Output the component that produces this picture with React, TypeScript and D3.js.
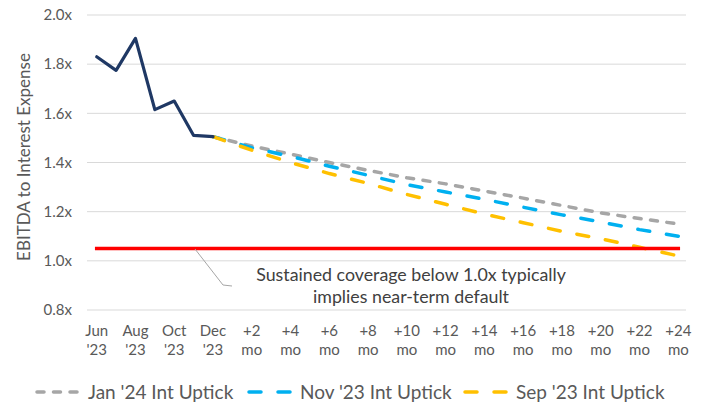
import React from "react";
import * as d3 from "d3";

// history (monthly actuals)
const historyLabels = ["Jun '23", "Jul '23", "Aug '23", "Sep '23", "Oct '23", "Nov '23", "Dec '23"];
const historyValues = [1.83, 1.775, 1.905, 1.615, 1.65, 1.51, 1.505];

// projection months after Dec '23
const projectionLabels = ["Dec '23", "+2 mo", "+4 mo", "+6 mo", "+8 mo", "+10 mo", "+12 mo", "+14 mo", "+16 mo", "+18 mo", "+20 mo", "+22 mo", "+24 mo"];
const jan24Values = [1.505, 1.467, 1.434, 1.4, 1.368, 1.338, 1.313, 1.284, 1.255, 1.225, 1.195, 1.172, 1.15];
const nov23Values = [1.505, 1.46, 1.425, 1.385, 1.348, 1.31, 1.28, 1.25, 1.218, 1.187, 1.158, 1.127, 1.1];
const sep23Values = [1.505, 1.45, 1.4, 1.355, 1.315, 1.27, 1.23, 1.19, 1.155, 1.12, 1.09, 1.055, 1.02];

const thresholdValue = 1.05;

const yTicks = [0.8, 1.0, 1.2, 1.4, 1.6, 1.8, 2.0];
const tickLabels = ["Jun '23", "Aug '23", "Oct '23", "Dec '23", "+2 mo", "+4 mo", "+6 mo", "+8 mo", "+10 mo", "+12 mo", "+14 mo", "+16 mo", "+18 mo", "+20 mo", "+22 mo", "+24 mo"];

const futureMonths = d3.range(1, 25).map((m) => `+${m} mo`);
const categories = [...historyLabels, ...futureMonths];

const legendItems = [
    { name: "Jan '24 Int Uptick", color: "#a6a6a6", dash: "7,9.5", x: 35 },
    { name: "Nov '23 Int Uptick", color: "#00b0f0", dash: "12,17", x: 247 },
    { name: "Sep '23 Int Uptick", color: "#ffc000", dash: "12,17", x: 463 },
];

const W = 705;
const H = 404;
const FONT = "Lato, sans-serif";

export default function App() {
    const x = d3.scaleBand<string>().domain(categories).range([87, 688]);
    const cx = (c: string) => (x(c) ?? 0) + x.bandwidth() / 2;
    const y = d3.scaleLinear().domain([0.8, 2.0]).range([310, 15]);

    const line = d3.line<[string, number]>()
        .x((d) => cx(d[0]))
        .y((d) => y(d[1]));

    const history = line(historyLabels.map((c, i) => [c, historyValues[i]] as [string, number]));
    const proj = (vals: number[]) => line(projectionLabels.map((c, i) => [c, vals[i]] as [string, number]));
    const threshold = line([[categories[0], thresholdValue], [categories[categories.length - 1], thresholdValue]]);

    return (
        <svg width={W} height={H} style={{ position: "absolute", left: 0, top: 0, background: "#fff" }} fontFamily={FONT}>
            {/* gridlines */}
            {yTicks.map((t) => (
                <g key={t}>
                    <line x1={87} x2={686} y1={y(t)} y2={y(t)} stroke="#d9d9d9" strokeWidth={1} />
                    <text x={72} y={y(t)} dy="0.35em" textAnchor="end" fontSize={15} fill="#595959">
                        {t.toFixed(1)}x
                    </text>
                </g>
            ))}

            {/* y title */}
            <text transform={`translate(24,157) rotate(-90)`} textAnchor="middle" fontSize={17} fill="#595959" dy="0.35em">
                EBITDA to Interest Expense
            </text>

            {/* x labels */}
            {tickLabels.map((l) => {
                const [a, b] = l.split(" ");
                return (
                    <text key={l} x={cx(l)} textAnchor="middle" fontSize={15} fill="#595959">
                        <tspan x={cx(l)} y={336}>{a}</tspan>
                        <tspan x={cx(l)} y={355}>{b}</tspan>
                    </text>
                );
            })}

            {/* projections */}
            <path d={proj(jan24Values) ?? ""} fill="none" stroke="#a6a6a6" strokeWidth={3.5} strokeDasharray="7,9.5" strokeLinecap="round" />
            <path d={proj(nov23Values) ?? ""} fill="none" stroke="#00b0f0" strokeWidth={3.5} strokeDasharray="12,17" strokeLinecap="round" />
            <path d={proj(sep23Values) ?? ""} fill="none" stroke="#ffc000" strokeWidth={3.5} strokeDasharray="12,17" strokeLinecap="round" />

            {/* actuals */}
            <path d={history ?? ""} fill="none" stroke="#1f3864" strokeWidth={3.2} strokeLinejoin="round" strokeLinecap="round" />

            {/* threshold */}
            <path d={threshold ?? ""} fill="none" stroke="#ff0000" strokeWidth={3.5} strokeLinecap="square" />

            {/* annotation */}
            <polyline points="195,249 223,285 232,286" fill="none" stroke="#a6a6a6" strokeWidth={1} />
            <text x={411} textAnchor="middle" fontSize={17.8} fill="#404040">
                <tspan x={411} y={281}>Sustained coverage below 1.0x typically</tspan>
                <tspan x={411} y={302.5}>implies near-term default</tspan>
            </text>

            {/* legend */}
            {legendItems.map((it) => (
                <g key={it.name}>
                    <line x1={it.x + 2} x2={it.x + 45} y1={392} y2={392} stroke={it.color} strokeWidth={3.5}
                        strokeDasharray={it.dash} strokeLinecap="round" />
                    <text x={it.x + 53} y={392} dy="0.35em" fontSize={19} fill="#595959">{it.name}</text>
                </g>
            ))}
        </svg>
    );
}
